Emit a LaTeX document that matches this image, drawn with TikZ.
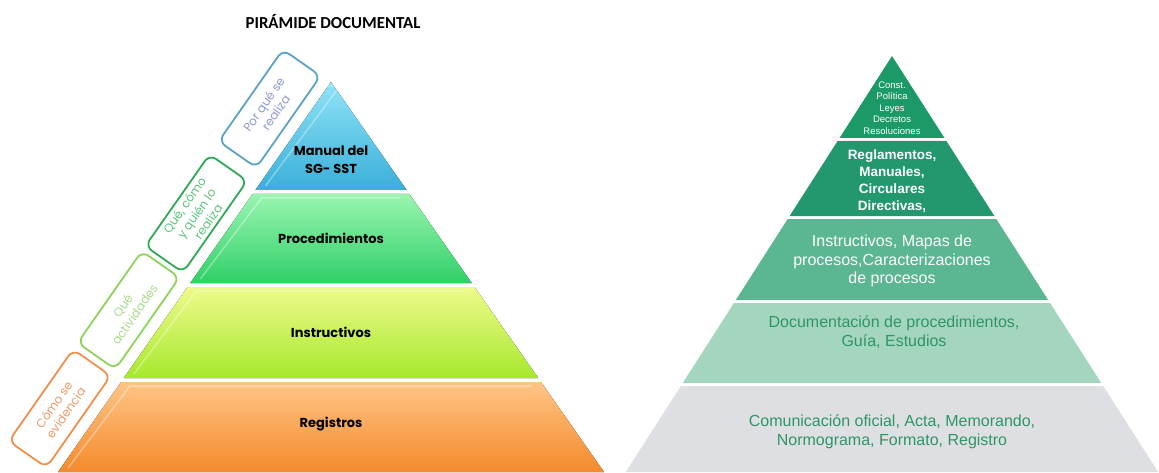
\documentclass[tikz,border=0pt]{standalone}
\usepackage{fontspec}
\setmainfont{Liberation Sans}
\newfontfamily\gothic{Poppins}
\newfontfamily\titlefont{Carlito}
\usetikzlibrary{calc}
% left pyramid colours
\definecolor{manT}{HTML}{8FE3F7}
\definecolor{manB}{HTML}{3AAFD9}
\definecolor{proT}{HTML}{9AF5B0}
\definecolor{proB}{HTML}{2FD068}
\definecolor{insT}{HTML}{EEFB8A}
\definecolor{insB}{HTML}{A6E82E}
\definecolor{regT}{HTML}{FFC586}
\definecolor{regB}{HTML}{F48A2C}
% side boxes
\definecolor{boxA}{HTML}{5BA3C4}
\definecolor{txtA}{HTML}{8E9BD3}
\definecolor{boxB}{HTML}{2EAA55}
\definecolor{txtB}{HTML}{5EC57E}
\definecolor{boxC}{HTML}{8FD35A}
\definecolor{txtC}{HTML}{A9DB8B}
\definecolor{boxD}{HTML}{F0904C}
\definecolor{txtD}{HTML}{EE9A66}
% right pyramid colours
\definecolor{rB1}{HTML}{1B9A68}
\definecolor{rB2}{HTML}{23986E}
\definecolor{rB3}{HTML}{5BB692}
\definecolor{rB4}{HTML}{A4D6BF}
\definecolor{rB5}{HTML}{DEDFE3}
\definecolor{txtG}{HTML}{2E9666}
\begin{document}
\begin{tikzpicture}[x=1pt,y=1pt]
	\useasboundingbox (0,0) rectangle (1159,472);
	\tikzstyle{lbl}=[font=\gothic\bfseries\fontsize{13}{18}\selectfont,text=black,align=center]
	\tikzstyle{side}=[rectangle,rounded corners=8pt,line width=1.8pt,fill=white,minimum width=112pt,minimum height=46pt,rotate=55,align=center,font=\gothic\fontsize{12}{14.5}\selectfont,inner sep=1pt]
	\tikzstyle{rt}=[align=center,text=white,font=\fontsize{16}{18.5}\selectfont]

	\node[font=\titlefont\bfseries\fontsize{16.8}{20}\selectfont] (titulo) at (333,450) {PIRÁMIDE DOCUMENTAL};

	% left pyramid: apex (331,390), 0.7 of width per unit of height
	\coordinate (apexL) at (331,390);
	\coordinate (baseL) at (58,0);
	\foreach \yb/\yt/\ctop/\cbot in {0/90/regT/regB, 94/185/insT/insB, 189/278/proT/proB, 282/390/manT/manB}{
		\fill[top color=\ctop,bottom color=\cbot] ({331-0.7*(390-\yb)},\yb) -- ({331+0.7*(390-\yb)},\yb) -- ({331+0.7*(390-\yt)},\yt) -- ({331-0.7*(390-\yt)},\yt) -- cycle;
		\draw[white,opacity=0.35,line width=1.5pt] ({331-0.7*(390-\yb)+10},\yb+4) -- ({331-0.7*(390-\yt)+9},\yt-4) -- ({331+0.7*(390-\yt)-9},\yt-4);
	}

	\node[lbl] (man) at (331,312) {Manual del\\SG- SST};
	\node[lbl] (pro) at (331,234) {Procedimientos};
	\node[lbl] (ins) at (331,140) {Instructivos};
	\node[lbl] (reg) at (331,48) {Registros};

	% boxes along the left side
	\node[side,draw=boxA,text=txtA] (porque) at ($(apexL)!57pt!(baseL)!35pt!-90:(baseL)$) {Por qué se\\realiza};
	\node[side,draw=boxB,text=txtB] (quecomo) at ($(apexL)!185pt!(baseL)!35pt!-90:(baseL)$) {Qué, cómo\\y quién lo\\realiza};
	\node[side,draw=boxC,text=txtC] (actividades) at ($(apexL)!303pt!(baseL)!35pt!-90:(baseL)$) {Qué\\actividades};
	\node[side,draw=boxD,text=txtD] (evidencia) at ($(apexL)!423pt!(baseL)!35pt!-90:(baseL)$) {Cómo se\\evidencia};

	% right pyramid: apex (892,416), 0.64 of width per unit of height
	\foreach \yb/\yt/\c in {0/86/rB5, 89/169/rB4, 172/253/rB3, 256/331/rB2, 334/416/rB1}
		\fill[\c] ({892-0.64*(416-\yb)},\yb) -- ({892+0.64*(416-\yb)},\yb) -- ({892+0.64*(416-\yt)},\yt) -- ({892-0.64*(416-\yt)},\yt) -- cycle;

	\node[rt,font=\fontsize{9.5}{11.5}\selectfont] (leyes) at (892,364) {Const.\\Política\\Leyes\\Decretos\\Resoluciones};
	\node[rt,font=\bfseries\fontsize{13.5}{17}\selectfont] (regl) at (892,291) {Reglamentos,\\Manuales,\\Circulares\\Directivas,};
	\node[rt] (instr) at (892,211) {Instructivos, Mapas de\\procesos,Caracterizaciones\\de procesos};
	\node[rt,text=txtG] (docu) at (894,140) {Documentación de procedimientos,\\Guía, Estudios};
	\node[rt,text=txtG] (comu) at (892,40) {Comunicación oficial, Acta, Memorando,\\Normograma, Formato, Registro};
\end{tikzpicture}
\end{document}
